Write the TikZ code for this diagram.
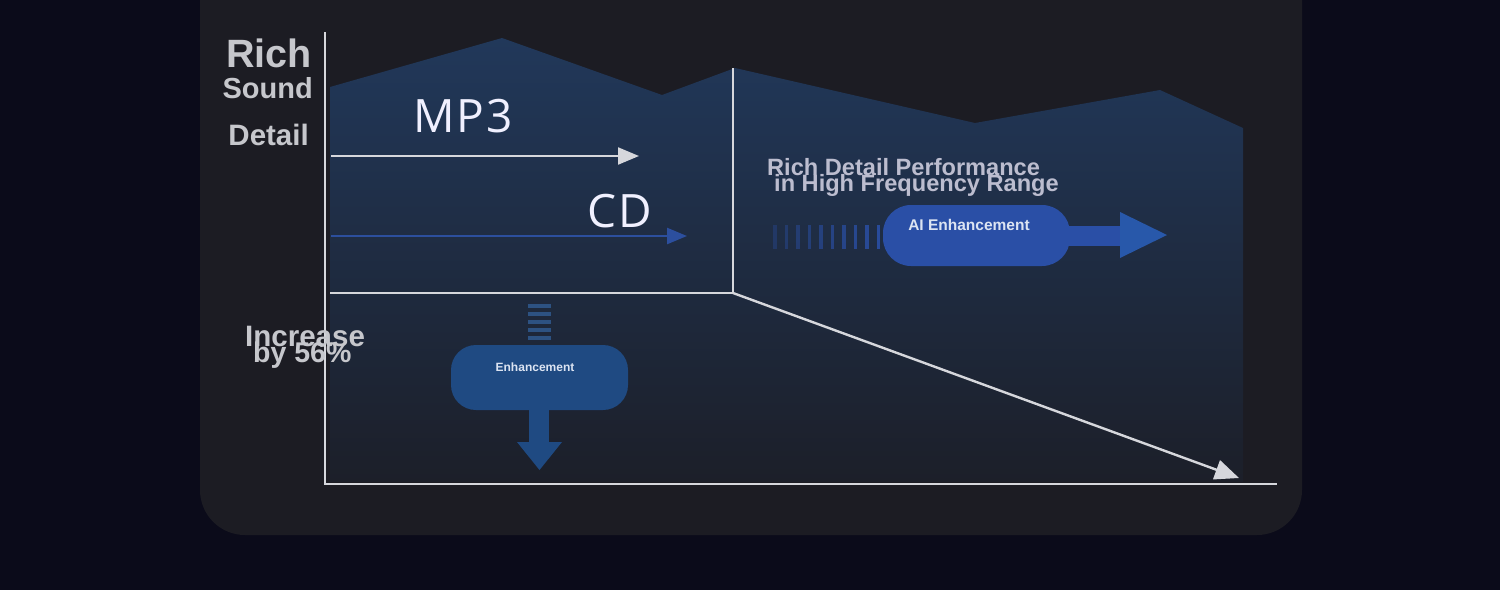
\documentclass[tikz,border=0pt]{standalone}
\usepackage{fontspec}
\setmainfont{Liberation Sans}
\newfontfamily\geo[LetterSpace=4]{Open Sans}
\usetikzlibrary{arrows.meta}
\definecolor{bgc}{HTML}{0B0B1A}
\definecolor{panelc}{HTML}{1C1C23}
\definecolor{blueT}{HTML}{21385A}
\definecolor{blueB}{HTML}{1C1F29}
\definecolor{axisc}{HTML}{D6D7DC}
\definecolor{labelc}{HTML}{C6C7CC}
\definecolor{cdblue}{HTML}{2C4F9E}
\definecolor{aiblue}{HTML}{2A4FA6}
\definecolor{enblue}{HTML}{1F4A82}
\definecolor{pilltext}{HTML}{DCE4F2}
\tikzset{
  axisline/.style={draw=axisc, line width=2.4pt},
  graylabel/.style={text=labelc, font=\bfseries, inner sep=0pt},
  geolabel/.style={text=white!94!blue, inner sep=0pt},
  aipill/.style={fill=aiblue, rounded corners=28pt, inner sep=0pt},
  enpill/.style={fill=enblue, rounded corners=25pt, inner sep=0pt},
}
\begin{document}
\begin{tikzpicture}[x=1pt,y=-1pt]
\useasboundingbox (0,0) rectangle (1500,590);
\fill[bgc] (0,0) rectangle (1500,590);
\fill[panelc, rounded corners=45pt] (200,-60) rectangle (1302,535);
% blue area
\shade[top color=blueT, bottom color=blueB] (330,87) -- (502,38) -- (662,95) -- (735,68) -- (975,123) -- (1160,90) -- (1243,128) -- (1243,482) -- (330,482) -- cycle;
% labels on y axis
\node[graylabel, font=\bfseries\fontsize{39.5}{39.5}\selectfont, anchor=base east] (rich) at (312,67) {Rich};
\node[graylabel, font=\bfseries\fontsize{29}{29}\selectfont, anchor=base east] (sound) at (313,98) {Sound};
\node[graylabel, font=\bfseries\fontsize{29.5}{29.5}\selectfont, anchor=base east] (detail) at (309,145) {Detail};
% axes
\coordinate (ytop) at (325,32);
\coordinate (ybot) at (325,485);
\coordinate (xend) at (1277,484);
\draw[axisline] (ytop) -- (ybot);
\draw[axisline] (325,484) -- (xend);
\coordinate (boxl) at (330,293);
\coordinate (boxc) at (733,293);
\coordinate (boxt) at (733,68);
\draw[axisline] (boxl) -- (boxc) -- (boxt);
\coordinate (diagend) at (1239,478);
\draw[axisline, -{Triangle[length=24pt,width=20pt]}] (boxc) -- (diagend);
% MP3 / CD
\node[geolabel, font=\geo\fontsize{46}{46}\selectfont, anchor=base west] (mp3) at (413,132) {MP3};
\node[geolabel, font=\geo\fontsize{46}{46}\selectfont, anchor=base west] (cd) at (587,227) {CD};
\coordinate (mp3s) at (331,156);
\coordinate (mp3e) at (639,156);
\draw[axisline, line width=2.2pt, -{Triangle[length=21pt,width=17pt]}] (mp3s) -- (mp3e);
\coordinate (cds) at (331,236);
\coordinate (cde) at (687,236);
\draw[draw=cdblue, line width=2.4pt, -{Triangle[length=20pt,width=16pt]}] (cds) -- (cde);
% right text
\node[graylabel, text=labelc!95!blue, font=\bfseries\fontsize{23.6}{23.6}\selectfont, anchor=base west] (rich1) at (767,175) {Rich Detail Performance};
\node[graylabel, text=labelc!95!blue, font=\bfseries\fontsize{23.6}{23.6}\selectfont, anchor=base west] (rich2) at (774,191) {in High Frequency Range};
% AI enhancement
\foreach \i in {0,...,9} {
  \fill[aiblue, opacity={0.35+0.06*\i}] ({773+\i*11.5},225) rectangle ({776.5+\i*11.5},249);
}
\node[aipill, minimum width=187pt, minimum height=61pt] (ai) at (976.5,235.5) {};
\fill[aiblue] (1066,226) rectangle (1122,246);
\fill[aiblue!95!cyan] (1120,212) -- (1167,235) -- (1120,258) -- cycle;
\node[text=pilltext, font=\bfseries\fontsize{15.5}{15.5}\selectfont, inner sep=0pt] (ailbl) at (969,225) {AI Enhancement};
% lower enhancement
\foreach \j in {0,...,4} {
  \fill[enblue!85!gray] (528,{304+\j*8}) rectangle (551,{307.5+\j*8});
}
\node[enpill, minimum width=177pt, minimum height=65pt] (en) at (539.5,377.5) {};
\fill[enblue] (529,405) rectangle (549,444);
\fill[enblue] (517,442) -- (562,442) -- (539.5,470) -- cycle;
\node[text=pilltext, font=\bfseries\fontsize{12}{12}\selectfont, inner sep=0pt] (enlbl) at (535,367) {Enhancement};
% increase
\node[graylabel, font=\bfseries\fontsize{29.5}{29.5}\selectfont, anchor=base west] (inc) at (245,346) {Increase};
\node[graylabel, font=\bfseries\fontsize{28.5}{28.5}\selectfont, anchor=base west] (by) at (253,362) {by 56\%};
\end{tikzpicture}
\end{document}
